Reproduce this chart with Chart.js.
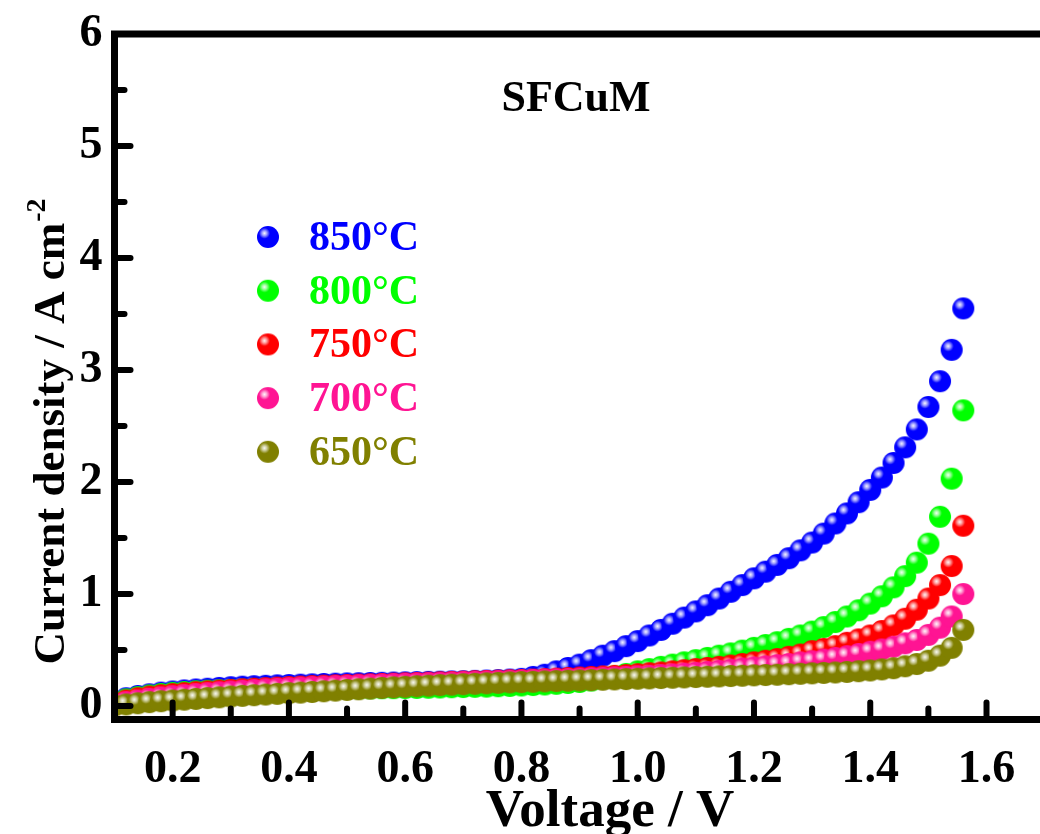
<!DOCTYPE html>
<html>
<head>
<meta charset="utf-8">
<script src="https://cdn.jsdelivr.net/npm/chart.js@4.4.1/dist/chart.umd.min.js"></script>
<style>
  html, body { margin: 0; padding: 0; background: #fff; overflow: hidden; }
  #wrap { width: 1040px; height: 834px; }
</style>
</head>
<body>
<div id="wrap"><canvas id="myChart"></canvas></div>
<script>
// voltage steps (V) shared by all temperatures
const voltage = [
  0.10, 0.12, 0.14, 0.16, 0.18, 0.20, 0.22, 0.24, 0.26, 0.28,
  0.30, 0.32, 0.34, 0.36, 0.38, 0.40, 0.42, 0.44, 0.46, 0.48,
  0.50, 0.52, 0.54, 0.56, 0.58, 0.60, 0.62, 0.64, 0.66, 0.68,
  0.70, 0.72, 0.74, 0.76, 0.78, 0.80, 0.82, 0.84, 0.86, 0.88,
  0.90, 0.92, 0.94, 0.96, 0.98, 1.00, 1.02, 1.04, 1.06, 1.08,
  1.10, 1.12, 1.14, 1.16, 1.18, 1.20, 1.22, 1.24, 1.26, 1.28,
  1.30, 1.32, 1.34, 1.36, 1.38, 1.40, 1.42, 1.44, 1.46, 1.48,
  1.50, 1.52, 1.54, 1.56
];

// current density (A cm-2)
const j850 = [
  0.04, 0.07, 0.09, 0.105, 0.12, 0.13, 0.14, 0.148, 0.155, 0.162,
  0.168, 0.173, 0.177, 0.181, 0.185, 0.188, 0.191, 0.194, 0.197, 0.20,
  0.202, 0.204, 0.206, 0.208, 0.21, 0.212, 0.214, 0.216, 0.218, 0.22,
  0.222, 0.225, 0.228, 0.232, 0.237, 0.243, 0.26, 0.28, 0.31, 0.34,
  0.37, 0.41, 0.45, 0.49, 0.535, 0.58, 0.63, 0.68, 0.735, 0.79,
  0.845, 0.90, 0.96, 1.02, 1.08, 1.14, 1.20, 1.26, 1.32, 1.39,
  1.46, 1.54, 1.63, 1.72, 1.82, 1.93, 2.04, 2.17, 2.31, 2.47,
  2.67, 2.90, 3.18, 3.55
];
const j800 = [
  0.035, 0.06, 0.08, 0.095, 0.108, 0.118, 0.126, 0.132, 0.137, 0.141,
  0.144, 0.146, 0.148, 0.149, 0.150, 0.151, 0.152, 0.153, 0.154, 0.155,
  0.156, 0.157, 0.158, 0.159, 0.160, 0.161, 0.162, 0.164, 0.166, 0.168,
  0.170, 0.172, 0.174, 0.177, 0.180, 0.184, 0.188, 0.193, 0.199, 0.206,
  0.215, 0.228, 0.245, 0.265, 0.287, 0.31, 0.33, 0.35, 0.37, 0.39,
  0.41, 0.43, 0.45, 0.47, 0.495, 0.52, 0.545, 0.57, 0.60, 0.63,
  0.665, 0.705, 0.75, 0.80, 0.855, 0.915, 0.98, 1.06, 1.16, 1.28,
  1.45, 1.69, 2.03, 2.64
];
const j750 = [
  0.025, 0.05, 0.07, 0.085, 0.097, 0.107, 0.116, 0.124, 0.131, 0.138,
  0.144, 0.15, 0.155, 0.16, 0.165, 0.17, 0.174, 0.178, 0.182, 0.185,
  0.188, 0.191, 0.194, 0.197, 0.20, 0.203, 0.206, 0.209, 0.212, 0.215,
  0.218, 0.221, 0.224, 0.227, 0.23, 0.233, 0.236, 0.24, 0.245, 0.25,
  0.255, 0.26, 0.265, 0.27, 0.277, 0.285, 0.293, 0.30, 0.31, 0.32,
  0.33, 0.34, 0.35, 0.362, 0.375, 0.39, 0.405, 0.42, 0.44, 0.46,
  0.49, 0.51, 0.535, 0.565, 0.595, 0.63, 0.67, 0.72, 0.78, 0.86,
  0.96, 1.08, 1.25, 1.61
];
const j700 = [
  0.015, 0.035, 0.05, 0.065, 0.077, 0.088, 0.098, 0.107, 0.115, 0.123,
  0.13, 0.137, 0.143, 0.149, 0.155, 0.16, 0.165, 0.17, 0.174, 0.178,
  0.182, 0.186, 0.19, 0.193, 0.196, 0.199, 0.202, 0.205, 0.208, 0.211,
  0.214, 0.217, 0.22, 0.223, 0.226, 0.229, 0.233, 0.236, 0.239, 0.242,
  0.245, 0.249, 0.253, 0.257, 0.261, 0.266, 0.271, 0.277, 0.283, 0.29,
  0.297, 0.305, 0.315, 0.325, 0.335, 0.345, 0.355, 0.365, 0.375, 0.39,
  0.40, 0.415, 0.43, 0.445, 0.465, 0.485, 0.505, 0.53, 0.56, 0.59,
  0.635, 0.70, 0.80, 1.00
];
const j650 = [
  0.005, 0.015, 0.025, 0.035, 0.043, 0.05, 0.057, 0.064, 0.071, 0.078,
  0.085, 0.091, 0.097, 0.103, 0.109, 0.115, 0.12, 0.126, 0.132, 0.138,
  0.144, 0.15, 0.156, 0.162, 0.167, 0.172, 0.177, 0.182, 0.187, 0.191,
  0.195, 0.199, 0.203, 0.207, 0.211, 0.214, 0.217, 0.22, 0.223, 0.226,
  0.229, 0.232, 0.235, 0.238, 0.241, 0.244, 0.247, 0.25, 0.253, 0.256,
  0.259, 0.262, 0.265, 0.268, 0.271, 0.274, 0.277, 0.28, 0.284, 0.288,
  0.292, 0.296, 0.30, 0.305, 0.311, 0.318, 0.327, 0.338, 0.355, 0.375,
  0.405, 0.45, 0.52, 0.68
];

const seriesLabels = ['850°C', '800°C', '750°C', '700°C', '650°C'];
const seriesColors = ['#0000ff', '#00ff00', '#ff0000', '#ff1493', '#808000'];
const seriesValues = [j850, j800, j750, j700, j650];

const xTicks = [0.2, 0.4, 0.6, 0.8, 1.0, 1.2, 1.4, 1.6];
const xMinorTicks = [0.3, 0.5, 0.7, 0.9, 1.1, 1.3, 1.5];
const yTicks = [0, 1, 2, 3, 4, 5, 6];
const yMinorTicks = [0.5, 1.5, 2.5, 3.5, 4.5, 5.5];

const SERIF = '"Liberation Serif", "Times New Roman", serif';

// shiny ball marker like the origin plot
function makeBall(color, r) {
  const size = r * 2 + 2;
  const c = document.createElement('canvas');
  c.width = size; c.height = size;
  const g = c.getContext('2d');
  const cx = size / 2, cy = size / 2;
  g.beginPath();
  g.arc(cx, cy, r, 0, Math.PI * 2);
  g.fillStyle = color;
  g.fill();
  const hx = cx - r * 0.32, hy = cy - r * 0.34;
  const grad = g.createRadialGradient(hx, hy, 0, hx, hy, r * 0.5);
  grad.addColorStop(0, 'rgba(255,255,255,0.97)');
  grad.addColorStop(0.45, 'rgba(255,255,255,0.6)');
  grad.addColorStop(1, 'rgba(255,255,255,0)');
  g.beginPath();
  g.arc(cx, cy, r, 0, Math.PI * 2);
  g.fillStyle = grad;
  g.fill();
  return c;
}

const balls = seriesColors.map(c => makeBall(c, 11));

const framePlugin = {
  id: 'frame',
  afterDatasetsDraw(chart) {
    const { ctx, chartArea, scales } = chart;
    const { left, top, bottom } = chartArea;
    const right = chart.width + 10;
    ctx.save();
    ctx.strokeStyle = '#000';
    ctx.lineWidth = 7;
    ctx.lineJoin = 'miter';
    ctx.beginPath();
    ctx.moveTo(right, top);
    ctx.lineTo(left, top);
    ctx.lineTo(left, bottom);
    ctx.lineTo(right, bottom);
    ctx.stroke();

    ctx.lineWidth = 6;
    ctx.lineCap = 'round';
    const tick = (px, py, dx, dy) => {
      ctx.beginPath();
      ctx.moveTo(px, py);
      ctx.lineTo(px + dx, py + dy);
      ctx.stroke();
    };
    xTicks.forEach(v => tick(scales.x.getPixelForValue(v), bottom, 0, -17));
    xMinorTicks.forEach(v => tick(scales.x.getPixelForValue(v), bottom, 0, -11));
    yTicks.forEach(v => tick(left, scales.y.getPixelForValue(v), 16, 0));
    yMinorTicks.forEach(v => tick(left, scales.y.getPixelForValue(v), 10, 0));
    ctx.restore();
  },
  afterDraw(chart) {
    const { ctx } = chart;
    ctx.save();
    // sample name
    ctx.fillStyle = '#000';
    ctx.font = 'bold 44px ' + SERIF;
    ctx.textAlign = 'center';
    ctx.textBaseline = 'middle';
    ctx.fillText('SFCuM', 576, 100);

    // x axis title
    ctx.font = 'bold 53px ' + SERIF;
    ctx.textBaseline = 'alphabetic';
    ctx.fillText('Voltage / V', 610, 826);

    // legend
    ctx.textAlign = 'left';
    ctx.textBaseline = 'middle';
    ctx.font = 'bold 42px ' + SERIF;
    seriesLabels.forEach((lab, i) => {
      const ly = 237 + i * 53.7;
      ctx.drawImage(balls[i], 268 - balls[i].width / 2, ly - balls[i].height / 2);
      ctx.fillStyle = seriesColors[i];
      ctx.fillText(lab, 309, ly + 2);
    });

    // y axis title with superscript
    const main = 'Current density / A cm';
    const sup = '-2';
    ctx.fillStyle = '#000';
    ctx.font = 'bold 45px ' + SERIF;
    const wMain = ctx.measureText(main).width;
    ctx.font = 'bold 28px ' + SERIF;
    const wSup = ctx.measureText(sup).width;
    ctx.rotate(-Math.PI / 2);
    const centerY = 432;
    const start = -centerY - (wMain + wSup) / 2;
    ctx.textBaseline = 'alphabetic';
    ctx.font = 'bold 45px ' + SERIF;
    ctx.fillText(main, start, 64);
    ctx.font = 'bold 28px ' + SERIF;
    ctx.fillText(sup, start + wMain + 1, 45);
    ctx.restore();
  }
};

const config = {
  type: 'scatter',
  data: {
    datasets: seriesLabels.map((label, i) => ({
      label: label,
      data: voltage.map((v, k) => ({ x: v, y: seriesValues[i][k] })),
      pointStyle: balls[i],
      pointRadius: 11,
      backgroundColor: seriesColors[i],
      borderColor: seriesColors[i],
      showLine: false,
      order: seriesLabels.length - i
    }))
  },
  options: {
    responsive: false,
    animation: false,
    events: [],
    layout: { autoPadding: false, padding: { top: 34, right: 0, left: 0, bottom: 0 } },
    plugins: {
      legend: { display: false },
      tooltip: { enabled: false }
    },
    scales: {
      x: {
        type: 'linear',
        min: 0.1,
        max: 1.692,
        grid: { display: false, drawTicks: false },
        border: { display: false },
        afterBuildTicks: s => { s.ticks = xTicks.map(v => ({ value: v })); },
        afterFit: s => { s.height = 114.5; s.paddingLeft = 0; s.paddingRight = 0; },
        ticks: {
          padding: 23,
          color: '#000',
          font: { family: SERIF, size: 46, weight: 'bold' },
          callback: v => Number(v).toFixed(1),
          maxRotation: 0
        }
      },
      y: {
        type: 'linear',
        min: -0.12,
        max: 6,
        grid: { display: false, drawTicks: false },
        border: { display: false },
        afterBuildTicks: s => { s.ticks = yTicks.map(v => ({ value: v })); },
        afterFit: s => { s.width = 114.5; s.paddingTop = 0; s.paddingBottom = 0; },
        ticks: {
          padding: 12,
          color: '#000',
          font: { family: SERIF, size: 46, weight: 'bold' },
          callback: v => String(v)
        }
      }
    }
  },
  plugins: [framePlugin]
};

const cv = document.getElementById('myChart');
cv.width = 1040;
cv.height = 834;
const myChart = new Chart(cv, config);
</script>
</body>
</html>
